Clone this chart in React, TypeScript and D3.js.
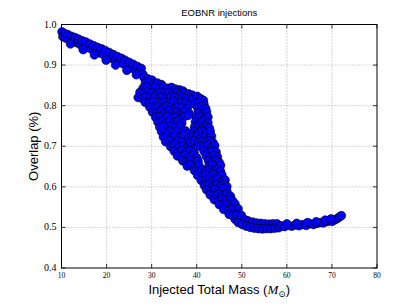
import React from 'react';
import * as d3 from 'd3';

// injected total mass (Msun) and overlap
const lowMassBand: [number, number][] = [
  [10.1, 0.982], [10.3, 0.970], [10.7, 0.978], [11.0, 0.966], [11.4, 0.975], [11.8, 0.962],
  [12.2, 0.971], [12.6, 0.958], [13.0, 0.968], [13.4, 0.955], [13.8, 0.964], [14.2, 0.950],
  [14.6, 0.960], [15.0, 0.946], [15.4, 0.957], [15.9, 0.943], [16.3, 0.952], [16.7, 0.939],
  [17.1, 0.948], [17.6, 0.935], [18.0, 0.944], [18.4, 0.930], [18.9, 0.940], [19.3, 0.926],
  [19.7, 0.936], [20.2, 0.921], [20.6, 0.931], [21.0, 0.917], [21.5, 0.926], [21.9, 0.912],
  [22.4, 0.921], [22.8, 0.908], [23.3, 0.917], [23.7, 0.903], [24.1, 0.912], [24.6, 0.898],
  [25.0, 0.907], [25.5, 0.893], [25.9, 0.902], [26.4, 0.888], [26.8, 0.897], [27.3, 0.883],
  [27.7, 0.892], [28.1, 0.877], [12.0, 0.952], [14.8, 0.938], [17.3, 0.925], [19.9, 0.912],
  [22.0, 0.900], [24.5, 0.887], [26.6, 0.876],
];

const transitionBlob: [number, number][] = [
  [28.3, 0.869], [29.2, 0.866], [30.1, 0.863],
  [28.6, 0.855], [29.5, 0.858], [30.4, 0.853], [31.3, 0.856], [32.2, 0.852],
  [28.1, 0.843], [29.0, 0.846], [29.9, 0.842], [30.8, 0.845], [31.7, 0.842], [32.6, 0.846],
  [33.5, 0.843], [34.4, 0.845], [35.3, 0.841], [36.2, 0.839], [37.0, 0.836],
  [27.4, 0.833], [28.3, 0.830], [29.2, 0.834], [30.1, 0.831], [31.0, 0.829], [31.9, 0.833],
  [32.8, 0.830], [33.7, 0.832], [34.6, 0.829], [35.5, 0.833], [36.4, 0.828], [37.3, 0.831],
  [38.2, 0.829], [39.0, 0.826],
  [27.0, 0.820], [27.9, 0.818], [28.8, 0.821], [29.7, 0.819], [30.6, 0.822], [31.5, 0.818],
  [32.4, 0.821], [33.3, 0.817], [34.2, 0.820], [35.1, 0.822], [36.0, 0.818], [36.9, 0.821],
  [37.6, 0.817],
  [28.6, 0.808], [29.5, 0.806], [30.4, 0.810], [31.3, 0.807], [32.2, 0.805], [33.1, 0.809],
  [34.0, 0.806], [34.9, 0.810], [35.8, 0.805], [36.7, 0.808], [37.6, 0.806], [38.5, 0.803],
  [29.6, 0.796], [30.5, 0.794], [31.4, 0.797], [32.3, 0.793], [33.2, 0.798], [34.1, 0.795],
  [35.0, 0.792], [35.9, 0.797], [36.8, 0.794], [37.7, 0.791],
  [30.2, 0.784], [31.1, 0.781], [32.0, 0.785], [32.9, 0.782], [33.8, 0.786], [34.7, 0.781],
  [35.6, 0.784], [36.5, 0.780], [37.4, 0.785], [38.3, 0.782],
  [30.9, 0.771], [31.8, 0.773], [32.7, 0.769], [33.6, 0.774], [34.5, 0.770], [35.4, 0.772],
  [36.3, 0.768], [37.2, 0.773], [38.1, 0.776],
  [31.4, 0.759], [32.3, 0.762], [33.2, 0.757], [34.1, 0.761], [35.0, 0.758], [35.9, 0.762],
  [36.7, 0.757],
  [31.8, 0.747], [32.7, 0.749], [33.6, 0.745], [34.5, 0.750], [35.4, 0.746], [36.3, 0.749],
  [32.2, 0.736], [33.1, 0.734], [34.0, 0.738], [34.9, 0.733], [35.8, 0.737], [36.6, 0.734],
  [37.5, 0.738], [38.4, 0.731],
  [32.6, 0.723], [33.5, 0.726], [34.4, 0.721], [35.3, 0.725], [36.2, 0.722], [37.2, 0.727],
  [38.2, 0.719],
  [33.1, 0.711], [34.0, 0.714], [34.9, 0.709], [35.8, 0.713], [36.8, 0.710],
  [34.2, 0.699], [35.1, 0.702], [36.0, 0.697], [37.0, 0.700], [37.9, 0.697], [38.8, 0.701],
  [35.0, 0.688], [35.9, 0.685], [36.8, 0.690], [37.7, 0.686], [38.6, 0.689], [39.4, 0.685],
  [35.7, 0.676], [36.6, 0.673], [37.5, 0.677], [38.4, 0.674], [39.3, 0.677], [40.0, 0.672],
  [36.9, 0.664], [37.8, 0.661], [38.7, 0.665], [39.6, 0.660], [40.3, 0.664],
  [37.9, 0.651], [38.8, 0.654], [39.7, 0.649], [40.5, 0.653],
];

const rightBranch: [number, number][] = [
  [39.2, 0.819], [40.1, 0.823], [40.9, 0.817], [41.5, 0.813],
  [39.7, 0.806], [40.6, 0.809], [41.6, 0.804],
  [40.2, 0.795], [41.1, 0.798], [42.0, 0.793],
  [40.3, 0.783], [41.3, 0.780], [42.2, 0.785],
  [39.9, 0.771], [40.8, 0.774], [41.7, 0.769], [42.5, 0.772],
  [39.7, 0.760], [40.6, 0.757], [41.5, 0.762], [42.5, 0.758],
  [39.5, 0.747], [40.4, 0.750], [41.3, 0.746], [42.2, 0.749], [42.8, 0.745],
  [39.4, 0.736], [40.3, 0.733], [41.2, 0.738], [42.1, 0.734], [43.0, 0.737],
  [39.2, 0.723], [40.1, 0.726], [41.0, 0.721], [41.9, 0.725], [42.8, 0.721], [43.3, 0.725],
  [38.6, 0.711], [39.5, 0.714], [40.4, 0.709], [41.3, 0.713], [42.2, 0.710], [43.1, 0.714],
  [43.6, 0.709],
  [40.7, 0.700], [41.6, 0.697], [42.5, 0.701], [43.4, 0.698], [44.0, 0.702],
  [41.6, 0.688], [42.5, 0.685], [43.4, 0.689], [44.3, 0.686],
  [42.1, 0.676], [43.0, 0.673], [43.9, 0.677], [44.6, 0.674],
  [42.6, 0.664], [43.5, 0.661], [44.4, 0.665], [45.0, 0.660],
  [42.7, 0.651], [43.6, 0.654], [44.5, 0.649], [45.3, 0.653],
  [39.5, 0.640], [40.4, 0.637], [41.2, 0.642], [42.0, 0.638], [42.8, 0.641], [43.6, 0.637],
  [44.4, 0.642], [45.3, 0.638],
  [40.2, 0.628], [41.1, 0.625], [42.0, 0.629], [42.9, 0.626], [43.8, 0.630], [44.7, 0.625],
  [45.6, 0.629],
  [41.0, 0.616], [41.9, 0.613], [42.8, 0.617], [43.7, 0.614], [44.6, 0.618], [45.5, 0.613],
  [46.3, 0.617],
  [41.7, 0.603], [42.6, 0.606], [43.5, 0.601], [44.4, 0.605], [45.3, 0.602], [46.2, 0.606],
  [46.7, 0.601],
  [42.2, 0.592], [43.1, 0.589], [44.0, 0.593], [44.9, 0.590], [45.8, 0.594], [46.7, 0.589],
  [43.0, 0.580], [43.9, 0.577], [44.8, 0.581], [45.7, 0.578], [46.6, 0.582], [47.5, 0.577],
  [43.9, 0.568], [44.8, 0.565], [45.7, 0.569], [46.6, 0.566], [47.5, 0.570], [48.0, 0.565],
  [45.0, 0.556], [45.9, 0.553], [46.8, 0.557], [47.7, 0.554], [48.5, 0.558],
  [46.0, 0.544], [46.9, 0.541], [47.8, 0.545], [48.7, 0.542], [49.2, 0.546],
  [47.2, 0.532], [48.1, 0.529], [49.0, 0.533], [49.9, 0.530],
  [48.5, 0.520], [49.4, 0.518], [50.3, 0.521], [51.2, 0.517],
];

const plateau: [number, number][] = [
  [48.8, 0.530], [49.7, 0.524], [50.6, 0.519], [51.5, 0.515], [52.4, 0.513], [53.3, 0.511],
  [54.2, 0.510], [55.1, 0.509], [56.0, 0.508], [56.9, 0.509], [57.8, 0.509],
  [49.2, 0.512], [50.1, 0.507], [51.0, 0.503], [51.9, 0.500], [52.8, 0.498], [53.7, 0.497],
  [54.6, 0.496], [55.5, 0.497], [56.4, 0.497], [57.3, 0.498], [58.2, 0.499],
  [58.7, 0.504], [59.5, 0.502], [60.3, 0.505], [61.1, 0.503], [61.9, 0.506], [62.7, 0.504],
  [63.5, 0.507], [64.3, 0.505], [65.1, 0.509], [65.9, 0.507], [66.7, 0.510], [67.4, 0.512],
  [68.1, 0.511], [68.8, 0.514], [69.5, 0.516], [70.1, 0.515], [70.7, 0.519], [71.2, 0.522],
  [71.7, 0.526], [72.1, 0.529],
  [60.0, 0.509], [62.2, 0.510], [64.6, 0.512], [66.5, 0.514], [68.5, 0.518], [69.8, 0.521],
];

const massTicks = [10, 20, 30, 40, 50, 60, 70, 80];
const overlapTicks = [0.4, 0.5, 0.6, 0.7, 0.8, 0.9, 1.0];

const W = 407;
const H = 305;
const plot = { left: 61.5, right: 377, top: 24.5, bottom: 268 };

export default function App() {
  const x = d3.scaleLinear().domain([10, 80]).range([plot.left, plot.right]);
  const y = d3.scaleLinear().domain([0.4, 1.0]).range([plot.bottom, plot.top]);
  const points = [...lowMassBand, ...transitionBlob, ...rightBranch, ...plateau];
  const serif = '"Liberation Serif", "DejaVu Serif", serif';
  const sans = '"Liberation Sans", Arial, sans-serif';

  return (
    <svg width={W} height={H} style={{ position: 'absolute', left: 0, top: 0, background: '#fff' }}>
      <rect x={0} y={0} width={W} height={H} fill="#fff" />
      {/* grid */}
      <g stroke="#8c8c8c" strokeWidth={0.7} strokeDasharray="1,2">
        {massTicks.slice(1, -1).map(t => (
          <line key={'gx' + t} x1={x(t)} x2={x(t)} y1={plot.top} y2={plot.bottom} />
        ))}
        {overlapTicks.slice(1, -1).map(t => (
          <line key={'gy' + t} x1={plot.left} x2={plot.right} y1={y(t)} y2={y(t)} />
        ))}
      </g>
      {/* scatter */}
      <g fill="#0000ff" stroke="#000" strokeWidth={0.6}>
        {points.map((d, i) => (
          <circle key={i} cx={x(d[0])} cy={y(d[1])} r={4.3} />
        ))}
      </g>
      {/* frame and inward ticks */}
      <rect x={plot.left} y={plot.top} width={plot.right - plot.left} height={plot.bottom - plot.top}
        fill="none" stroke="#000" strokeWidth={1} />
      <g stroke="#000" strokeWidth={0.8}>
        {massTicks.map(t => (
          <g key={'tx' + t}>
            <line x1={x(t)} x2={x(t)} y1={plot.bottom} y2={plot.bottom - 4} />
            <line x1={x(t)} x2={x(t)} y1={plot.top} y2={plot.top + 4} />
          </g>
        ))}
        {overlapTicks.map(t => (
          <g key={'ty' + t}>
            <line x1={plot.left} x2={plot.left + 4} y1={y(t)} y2={y(t)} />
            <line x1={plot.right} x2={plot.right - 4} y1={y(t)} y2={y(t)} />
          </g>
        ))}
      </g>
      {/* tick labels */}
      <g fontFamily={serif} fontSize={7.5} fill="#000" textAnchor="middle">
        {massTicks.map(t => (
          <text key={'lx' + t} x={x(t)} y={plot.bottom + 10}>{t}</text>
        ))}
      </g>
      <g fontFamily={serif} fontSize={10} fill="#000" textAnchor="end">
        {overlapTicks.map(t => (
          <text key={'ly' + t} x={plot.left - 5} y={y(t) + 3}>{d3.format('.1f')(t)}</text>
        ))}
      </g>
      {/* titles */}
      <text x={(plot.left + plot.right) / 2} y={16} textAnchor="middle" fontFamily={sans} fontSize={9.5}>
        EOBNR injections
      </text>
      <text x={(plot.left + plot.right) / 2} y={294} textAnchor="middle" fontFamily={sans} fontSize={13}>
        Injected Total Mass (
        <tspan fontFamily={serif} fontStyle="italic" fontSize={13}>M</tspan>
        <tspan fontFamily={serif} fontSize={9} dy={3}>⊙</tspan>
        <tspan dy={-3}>)</tspan>
      </text>
      <text transform={`translate(38,${(plot.top + plot.bottom) / 2}) rotate(-90)`} textAnchor="middle"
        fontFamily={sans} fontSize={13}>
        Overlap (%)
      </text>
    </svg>
  );
}
